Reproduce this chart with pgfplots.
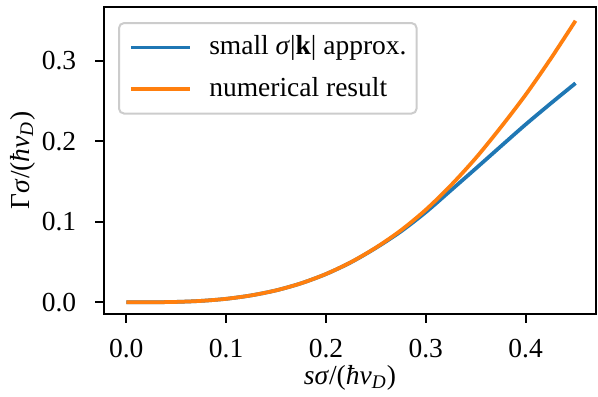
\documentclass[border=0pt]{standalone}
\usepackage{fontspec}
\setmainfont{Liberation Serif}
\usepackage{pgfplots}
\pgfplotsset{compat=1.18}
\definecolor{c0}{HTML}{1F77B4}
\definecolor{c1}{HTML}{FF7F0E}
\pgfplotstableread{
x y
0 0
0.025 0.0000672
0.05 0.00054
0.075 0.00181
0.1 0.00435
0.125 0.0086
0.15 0.01485
0.175 0.0236
0.2 0.0351
0.225 0.0497
0.25 0.0676
0.275 0.0880
0.3 0.1120
0.325 0.1390
0.35 0.1662
0.375 0.1937
0.4 0.2210
0.425 0.2470
0.45 0.2723
}\approxdata
\pgfplotstableread{
x y
0 0
0.025 0.0000672
0.05 0.00054
0.075 0.00181
0.1 0.00435
0.125 0.0086
0.15 0.01485
0.175 0.0236
0.2 0.0352
0.225 0.0499
0.25 0.0680
0.275 0.0894
0.3 0.1150
0.325 0.1452
0.35 0.1792
0.375 0.2173
0.4 0.2579
0.425 0.3025
0.45 0.3499
}\numdata
\newcommand\ff{\fontsize{11bp}{13bp}\selectfont}
\begin{document}
\ff
\begin{tikzpicture}
\begin{axis}[
  name=ax,
  scale only axis, width=196.8bp, height=122.8bp,
  xmin=-0.0223, xmax=0.4705, ymin=-0.0145, ymax=0.367,
  xtick={0,0.1,0.2,0.3,0.4}, ytick={0,0.1,0.2,0.3},
  xticklabels={0.0,0.1,0.2,0.3,0.4}, yticklabels={0.0,0.1,0.2,0.3},
  tick align=outside, tick pos=left,
  major tick length=3.5bp,
  every tick/.style={line width=0.8bp, black},
  axis line style={line width=0.8bp},
  minor tick num=0,
  ticklabel style={font=\ff, inner sep=0pt},
  xticklabel style={anchor=north, yshift=-6.4bp},
  yticklabel style={anchor=east, xshift=-7.4bp},
  xlabel={\textit{sσ}/(\textit{ħv}\textsubscript{\textit{D}})},
  ylabel={Γ\textit{σ}/(\textit{ħv}\textsubscript{\textit{D}})},
  label style={font=\ff},
  xlabel style={at={(axis description cs:0.5,-0.229)}, anchor=base},
  ylabel style={at={(axis description cs:-0.1657,0.5)}, anchor=center},
  legend style={at={(axis description cs:0.0285,0.951)}, anchor=north west,
    draw=black!20, line width=0.8bp, rounded corners=2bp, fill=white,
    inner xsep=4bp, inner ysep=4.8bp, row sep=6.8bp, column sep=7bp,
    font=\ff,
    nodes={inner sep=0pt, text height=7.7bp, text depth=2.2bp}},
  legend cell align=left,
  legend image code/.code={\draw[#1] (0bp,0bp) -- (23.6bp,0bp);},
]
\addplot[c0, line width=1.5bp, smooth] table[x=x,y=y] {\approxdata};
\addlegendentry{small \textit{σ}|\textbf{k}| approx.}
\addplot[c1, line width=1.5bp, smooth] table[x=x,y=y] {\numdata};
\addlegendentry{numerical result}
\end{axis}
\pgfresetboundingbox
\path[use as bounding box] ([shift={(-41.6bp,-33.2bp)}]ax.south west) rectangle ([shift={(0.8bp,2.8bp)}]ax.north east);
\end{tikzpicture}
\end{document}
